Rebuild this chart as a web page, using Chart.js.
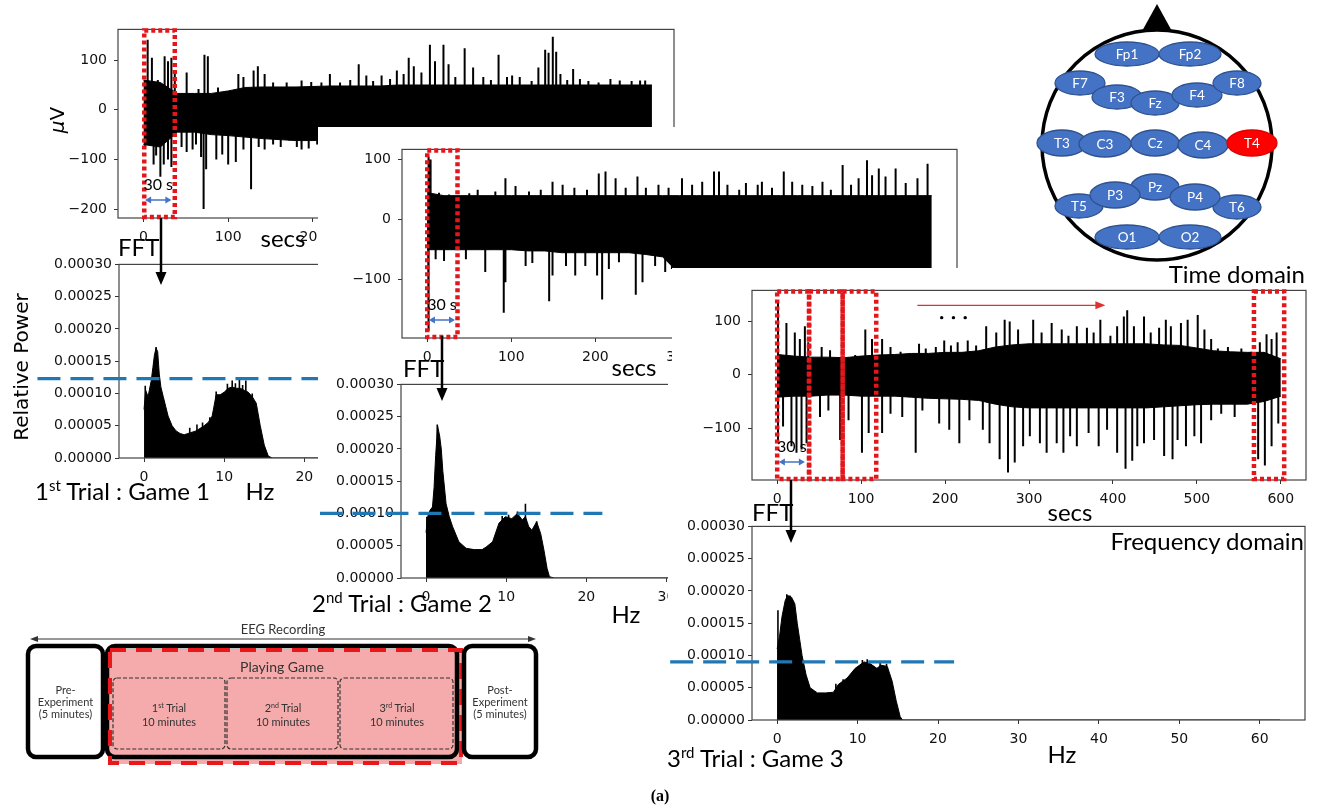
<!DOCTYPE html>
<html>
<head>
<meta charset="utf-8">
<title>EEG trials - time and frequency domain</title>
<script src="https://cdn.jsdelivr.net/npm/chart.js@4.4.1/dist/chart.umd.min.js"></script>
<style>
  html, body { margin: 0; padding: 0; background: #fff; }
  #page { position: relative; width: 1321px; height: 809px; overflow: hidden; background: #fff; }
  .clip { position: absolute; overflow: hidden; background: #fff; }
  .clip canvas { position: absolute; }
  svg.layer { position: absolute; left: 0; top: 0; }
</style>
</head>
<body>
<div id="page">
  <div class="clip" id="w_c1"><canvas id="c1"></canvas></div>
  <div class="clip" id="w_f1"><canvas id="f1"></canvas></div>
  <div class="clip" id="w_c2"><canvas id="c2"></canvas></div>
  <div class="clip" id="w_f2"><canvas id="f2"></canvas></div>
  <div class="clip" id="w_c3"><canvas id="c3"></canvas></div>
  <div class="clip" id="w_f3"><canvas id="f3"></canvas></div>

  <svg class="layer" width="1321" height="809" xmlns="http://www.w3.org/2000/svg">
    <!-- electrode map -->
    <g id="head">
      <polygon points="1141,33 1173,33 1157,4" fill="#000"/>
      <circle cx="1157" cy="145" r="115" fill="#fff" stroke="#000" stroke-width="3.5"/>
      <g id="electrodes" style="font-family:'Lato'; font-size:13.5px" text-anchor="middle"></g>
    </g>

    <!-- recording protocol -->
    <g id="protocol" style="font-family:'Lato'" fill="#333">
      <line x1="34" y1="639" x2="532" y2="639" stroke="#333" stroke-width="1.2"/>
      <polygon points="30,639 38,636 38,642" fill="#333"/>
      <polygon points="536,639 528,636 528,642" fill="#333"/>
      <text x="283" y="634" style="font-size:13px" text-anchor="middle">EEG Recording</text>

      <rect x="28" y="646" width="75" height="111" rx="8" fill="#fff" stroke="#000" stroke-width="4.5"/>
      <g style="font-size:11px" text-anchor="middle">
        <text x="65.5" y="694">Pre-</text>
        <text x="65.5" y="706">Experiment</text>
        <text x="65.5" y="718">(5 minutes)</text>
      </g>

      <rect x="109" y="649" width="353" height="115" fill="#f5abab"/>
      <rect x="107" y="646" width="350" height="111" rx="8" fill="none" stroke="#000" stroke-width="4.5"/>
      <rect x="110" y="650" width="351" height="113" fill="none" stroke="#e8191b" stroke-width="4" stroke-dasharray="16 10"/>
      <text x="282" y="672" style="font-size:14px" text-anchor="middle">Playing Game</text>
      <g fill="none" stroke="#333" stroke-width="1.2" stroke-dasharray="4 2">
        <rect x="113" y="678" width="112" height="71" rx="4"/>
        <rect x="227" y="678" width="111" height="71" rx="4"/>
        <rect x="340" y="678" width="113" height="71" rx="4"/>
      </g>
      <g style="font-size:11px" text-anchor="middle">
        <text x="169" y="712">1<tspan dy="-4" style="font-size:7px">st</tspan><tspan dy="4"> Trial</tspan></text>
        <text x="169" y="726">10 minutes</text>
        <text x="283" y="712">2<tspan dy="-4" style="font-size:7px">nd</tspan><tspan dy="4"> Trial</tspan></text>
        <text x="283" y="726">10 minutes</text>
        <text x="397" y="712">3<tspan dy="-4" style="font-size:7px">rd</tspan><tspan dy="4"> Trial</tspan></text>
        <text x="397" y="726">10 minutes</text>
      </g>

      <rect x="464" y="646" width="72" height="111" rx="8" fill="#fff" stroke="#000" stroke-width="4.5"/>
      <g style="font-size:11px" text-anchor="middle">
        <text x="500" y="694">Post-</text>
        <text x="500" y="706">Experiment</text>
        <text x="500" y="718">(5 minutes)</text>
      </g>
    </g>

    <!-- FFT arrows -->
    <g stroke="#000" stroke-width="2.5">
      <line x1="161" y1="218" x2="161" y2="274"/>
      <line x1="442" y1="336" x2="442" y2="390"/>
      <line x1="791" y1="480" x2="791" y2="532"/>
    </g>
    <g fill="#000">
      <polygon points="155.5,272 166.5,272 161,285"/>
      <polygon points="436.5,388 447.5,388 442,401"/>
      <polygon points="785.5,530 796.5,530 791,543"/>
    </g>

    <!-- axis titles and captions -->
    <g style="font-family:'DejaVu Sans'" fill="#000">
      <text x="57" y="120" style="font-size:20px" text-anchor="middle" dominant-baseline="central" transform="rotate(-90 57 120)"><tspan font-style="italic">μ</tspan>V</text>
      <text x="21" y="367" style="font-size:20px" text-anchor="middle" dominant-baseline="central" transform="rotate(-90 21 367)">Relative Power</text>
    </g>
    <g style="font-family:'Lato'; font-size:24px" fill="#000">
      <text x="118" y="256">FFT</text>
      <text x="283" y="247" text-anchor="middle">secs</text>
      <text x="35" y="500">1<tspan dy="-9" style="font-size:15px">st</tspan><tspan dy="9"> Trial : Game 1</tspan></text>
      <text x="260" y="500" text-anchor="middle">Hz</text>

      <text x="403" y="377">FFT</text>
      <text x="634" y="376" text-anchor="middle">secs</text>
      <text x="312" y="612">2<tspan dy="-9" style="font-size:15px">nd</tspan><tspan dy="9"> Trial : Game 2</tspan></text>
      <text x="626" y="623" text-anchor="middle">Hz</text>

      <text x="1305" y="283" text-anchor="end">Time domain</text>
      <text x="752" y="521">FFT</text>
      <text x="1070" y="521" text-anchor="middle">secs</text>
      <text x="1304" y="550" text-anchor="end">Frequency domain</text>
      <text x="667" y="767">3<tspan dy="-9" style="font-size:15px">rd</tspan><tspan dy="9"> Trial : Game 3</tspan></text>
      <text x="1062" y="763" text-anchor="middle">Hz</text>
    </g>
    <text x="660" y="801" style="font-family:'Liberation Serif'; font-weight:bold; font-size:16px" text-anchor="middle">(a)</text>
  </svg>
</div>

<script>
// ---- data ----
const secTicks = [0, 100, 200, 300, 400, 500, 600];
const hzTicks = [0, 10, 20, 30, 40, 50, 60];
const powTicks = [0, 0.00005, 0.0001, 0.00015, 0.0002, 0.00025, 0.0003];
const uvTicks1 = [-200, -100, 0, 100];
const uvTicks23 = [-100, 0, 100];

// time-domain envelope (dense part of the trace), one value per 20 s
const binSecs = [0, 20, 40, 60, 80, 100, 120, 140, 160, 180, 200, 220, 240, 260, 280, 300,
  320, 340, 360, 380, 400, 420, 440, 460, 480, 500, 520, 540, 560, 580, 600];

const hi1 = [60, 55, 33, 33, 33, 38, 45, 46, 46, 46, 47, 48, 48, 48, 48, 50,
  50, 50, 50, 50, 50, 50, 50, 50, 50, 50, 50, 50, 50, 50, 50];
const lo1 = [-70, -75, -45, -45, -50, -52, -55, -58, -60, -62, -62, -60, -60, -60, -60, -60,
  -60, -60, -60, -60, -60, -60, -60, -60, -60, -60, -60, -60, -60, -60, -55];
// isolated excursions [s, µV]
const spikes1 = [[5, 141], [10, 105], [17, 60], [25, 108], [29, 98], [33, 105], [37, 72],
  [51, 75], [65, 42], [72, 111], [76, 108], [88, 45], [98, 38], [112, 72], [118, 66], [130, 79],
  [135, 88], [143, 72], [153, 55], [169, 55], [187, 59], [198, 56], [210, 55], [220, 72],
  [232, 55], [244, 60], [254, 92], [263, 69], [271, 58], [281, 69], [291, 62], [299, 79],
  [307, 72], [313, 105], [319, 88], [328, 75], [338, 131], [344, 98], [354, 131], [360, 92],
  [368, 66], [379, 124], [389, 85], [401, 66], [410, 60], [419, 111], [429, 66], [435, 69],
  [444, 66], [458, 58], [466, 85], [474, 121], [478, 115], [483, 147], [487, 117], [492, 72],
  [500, 60], [507, 82], [515, 62], [525, 58], [537, 55], [551, 62], [562, 59], [576, 58],
  [586, 59], [592, 59],
  [2, -75], [5, -60], [12, -110], [15, -92], [20, -135], [24, -110], [29, -100], [33, -115],
  [45, -75], [51, -85], [58, -80], [62, -70], [68, -95], [71, -200], [74, -120], [86, -100],
  [93, -90], [100, -110], [109, -105], [118, -80], [127, -160], [136, -75], [143, -80],
  [153, -70], [162, -75], [172, -62], [181, -75], [186, -80], [195, -78], [205, -70],
  [250, -90], [350, -100], [450, -95], [550, -90]];

const hi2 = [45, 40, 40, 40, 40, 40, 40, 40, 40, 40, 40, 40, 40, 40, 40, 40,
  40, 40, 40, 40, 40, 40, 40, 40, 40, 40, 40, 40, 40, 40, 40];
const lo2 = [-50, -50, -50, -50, -50, -50, -52, -52, -55, -55, -55, -55, -55, -58, -62, -90,
  -90, -90, -90, -90, -90, -90, -90, -90, -90, -90, -90, -90, -90, -90, -90];
const spikes2 = [[2, 105], [4, 100], [14, 45], [26, 42], [50, 44], [60, 50], [81, 47], [93, 69],
  [105, 56], [121, 47], [135, 50], [149, 63], [161, 58], [175, 53], [190, 50], [204, 77],
  [212, 80], [224, 69], [236, 53], [250, 72], [260, 53], [275, 58], [287, 53], [303, 69],
  [315, 58], [327, 63], [341, 80], [347, 80], [357, 58], [371, 50], [379, 61], [393, 58],
  [398, 63], [410, 53], [424, 80], [434, 63], [446, 58], [458, 56], [470, 63], [480, 50],
  [494, 91], [504, 58], [513, 69], [523, 99], [529, 74], [537, 85], [545, 72], [557, 85],
  [569, 61], [583, 69], [595, 93],
  [1, -185], [10, -66], [20, -69], [46, -66], [69, -87], [91, -155], [93, -104], [117, -77],
  [125, -72], [145, -136], [149, -93], [165, -77], [176, -93], [188, -77], [202, -93],
  [208, -133], [216, -82], [228, -71], [248, -125], [256, -104], [271, -77], [283, -87],
  [291, -82], [307, -100], [330, -110], [360, -100], [400, -110], [450, -100], [500, -110],
  [550, -100]];

const hi3 = [38, 35, 33, 33, 32, 35, 37, 38, 40, 40, 42, 42, 45, 52, 56, 58,
  58, 58, 58, 58, 58, 58, 58, 56, 55, 50, 45, 43, 42, 42, 30];
const lo3 = [-42, -40, -40, -38, -38, -40, -40, -40, -42, -44, -45, -46, -48, -55, -60, -62,
  -62, -62, -62, -62, -62, -62, -62, -60, -58, -56, -55, -55, -55, -50, -40];
const spikes3 = [[1, 140], [11, 97], [21, 79], [27, 67], [33, 91], [37, 61], [53, 52], [63, 46],
  [93, 37], [105, 85], [113, 67], [125, 67], [135, 52], [147, 43], [169, 58], [177, 49],
  [189, 52], [199, 64], [207, 55], [215, 61], [227, 64], [237, 55], [249, 91], [261, 79],
  [271, 103], [277, 100], [287, 85], [305, 103], [315, 79], [327, 97], [339, 85], [347, 73],
  [357, 91], [369, 88], [377, 79], [385, 103], [397, 73], [405, 91], [413, 109], [417, 121],
  [425, 91], [437, 109], [445, 79], [455, 88], [463, 103], [469, 91], [481, 97], [489, 103],
  [501, 112], [509, 85], [517, 67], [525, 49], [537, 52], [553, 49], [565, 43], [575, 61],
  [583, 76], [589, 67], [595, 79],
  [1, -128], [7, -97], [17, -134], [23, -146], [29, -140], [35, -128], [51, -79], [61, -67],
  [75, -122], [85, -85], [101, -146], [109, -109], [125, -109], [135, -73], [149, -79],
  [165, -146], [173, -67], [193, -91], [205, -103], [217, -128], [229, -85], [245, -103],
  [253, -128], [265, -158], [275, -183], [283, -164], [293, -134], [301, -115], [313, -128],
  [321, -146], [333, -128], [341, -146], [349, -115], [357, -134], [371, -109], [383, -134],
  [393, -103], [405, -146], [415, -176], [423, -161], [429, -134], [437, -128], [449, -122],
  [461, -152], [471, -158], [477, -122], [487, -134], [497, -115], [505, -128], [517, -85],
  [529, -73], [545, -79], [573, -158], [581, -170], [589, -134], [597, -91]];

// red analysis windows (seconds) and the 30 s marker
const windows1 = [[1, 37]];
const windows2 = [[0, 36]];
const windows3 = [[0, 38], [38, 78], [78, 118], [568, 604]];
const markSpan = [2, 33];

// spectra (relative power)
const hz1 = [0, 0.2, 0.5, 0.9, 1.1, 1.3, 1.5, 1.7, 1.9, 2.1, 2.4, 2.7, 3.0, 3.5, 4.0, 4.5, 5.0, 5.5,
  6.0, 6.5, 7.0, 7.5, 8.0, 8.5, 9.0, 9.5, 10.0, 10.5, 11.0, 11.5, 12.0, 12.5, 13.0, 13.5, 14.0,
  14.5, 15.0, 15.5, 16.0, 62.5];
const pow1 = [7.5e-5, 10.5e-5, 9.5e-5, 12e-5, 14e-5, 16e-5, 17e-5, 16.5e-5, 13e-5, 11e-5, 9.5e-5,
  8e-5, 6.5e-5, 5e-5, 4.2e-5, 3.8e-5, 3.6e-5, 3.8e-5, 4e-5, 4.2e-5, 4.6e-5, 5e-5, 5.5e-5, 6.5e-5,
  9.8e-5, 9.8e-5, 10.2e-5, 10.8e-5, 11e-5, 10.8e-5, 10.8e-5, 10.5e-5, 10.2e-5, 9.5e-5, 8.5e-5,
  5e-5, 2e-5, 0.3e-5, 0, 0];
const spikesF1 = [[0.15, 11.2e-5], [1.5, 17.2e-5], [5.7, 4.7e-5], [6.6, 5.2e-5], [7.3, 5.5e-5],
  [8.2, 6.3e-5], [9.0, 10.3e-5], [10.4, 11.5e-5], [11.0, 12e-5], [11.4, 11.6e-5], [11.9, 12.1e-5],
  [12.3, 11.3e-5], [12.7, 12e-5], [13.5, 10e-5]];

const hz2 = [0, 0.2, 0.5, 0.8, 1.0, 1.2, 1.45, 1.7, 1.9, 2.1, 2.5, 2.9, 3.3, 4.1, 5.0, 6.0, 7.0,
  7.5, 8.3, 9.1, 9.9, 10.7, 11.4, 12.0, 12.4, 12.8, 13.2, 13.8, 14.3, 14.7, 15.1, 15.4, 16, 62.5];
const pow2 = [7e-5, 9.5e-5, 10.5e-5, 11e-5, 14e-5, 19e-5, 23.5e-5, 22e-5, 20e-5, 16.5e-5, 11.5e-5,
  9.5e-5, 8e-5, 5.6e-5, 4.6e-5, 4.4e-5, 4.4e-5, 4.8e-5, 5.6e-5, 8.5e-5, 9.5e-5, 9.2e-5, 10e-5, 9e-5,
  9.5e-5, 8e-5, 7.4e-5, 8.7e-5, 6.9e-5, 4.4e-5, 1.5e-5, 0.2e-5, 0, 0];
const spikesF2 = [[0.1, 9.5e-5], [1.4, 23.8e-5], [9.5, 9.6e-5], [10.3, 9.8e-5], [11.4, 10.3e-5],
  [12.4, 11.5e-5], [13.8, 8.8e-5]];

const hz3 = [0, 0.3, 0.6, 1.0, 1.3, 1.8, 2.2, 2.5, 2.8, 3.1, 3.6, 4.1, 5.0, 6.0, 7.0, 7.6, 8.7,
  9.7, 10.8, 11.6, 12.4, 12.9, 13.7, 14.3, 14.8, 15.3, 15.6, 62.5];
const pow3 = [11e-5, 13e-5, 16e-5, 18.5e-5, 19.3e-5, 19e-5, 18e-5, 15e-5, 12.5e-5, 10e-5, 7e-5,
  5e-5, 4.2e-5, 4.2e-5, 4.3e-5, 5.5e-5, 6.5e-5, 8e-5, 9e-5, 8.7e-5, 8e-5, 8.5e-5, 8.3e-5, 6e-5,
  3e-5, 0.5e-5, 0, 0];
const spikesF3 = [[0.1, 17e-5], [1.2, 19.5e-5], [1.6, 19.3e-5], [7.3, 5.6e-5], [8.2, 6.3e-5],
  [10.6, 9.3e-5], [11.2, 9.4e-5], [12.8, 9e-5], [13.6, 8.7e-5]];

// dashed reference levels
const levels = [12.3e-5, 10e-5, 9e-5];
const levelSpan = [-13.3, 22];

// electrode map (10-20 system), T4 highlighted
const electrodes = [
  ['Fp1', 1127, 54, 32, 12], ['Fp2', 1190, 54, 31, 12],
  ['F7', 1080, 83, 25, 12], ['F3', 1117, 97, 25, 12], ['Fz', 1155, 103, 24, 12],
  ['F4', 1197, 95, 25, 12], ['F8', 1237, 83, 24, 12],
  ['T3', 1062, 143, 25, 13], ['C3', 1105, 144, 26, 13], ['Cz', 1155, 143, 24, 13],
  ['C4', 1203, 145, 25, 13], ['T4', 1252, 143, 25, 13],
  ['T5', 1079, 206, 24, 12], ['T6', 1237, 207, 24, 12], ['Pz', 1155, 187, 24, 13],
  ['P3', 1115, 195, 25, 13], ['P4', 1195, 197, 25, 13],
  ['O1', 1127, 237, 32, 12], ['O2', 1190, 237, 31, 12]
];
const highlighted = 'T4';

// ---- layout: clip box and canvas box in page pixels ----
const panels = {
  c1: { wrap: [0, 0, 700, 250], box: [30, 14, 654, 234], yw: 88, xmax: 626 },
  f1: { wrap: [0, 252, 318, 250], box: [0, 253, 680, 235], yw: 119 },
  c2: { wrap: [318, 127, 650, 251], box: [330, 134, 637, 234], yw: 72, xmax: 630 },
  f2: { wrap: [320, 371, 348, 257], box: [320, 373, 642, 235], yw: 81 },
  c3: { wrap: [672, 268, 649, 237], box: [690, 275, 626, 235], yw: 62, xmax: 630 },
  f3: { wrap: [668, 518, 653, 230], box: [668, 515, 647, 235], yw: 84 }
};

for (const [id, p] of Object.entries(panels)) {
  const w = document.getElementById('w_' + id);
  const c = document.getElementById(id);
  Object.assign(w.style, { left: p.wrap[0] + 'px', top: p.wrap[1] + 'px', width: p.wrap[2] + 'px', height: p.wrap[3] + 'px' });
  c.width = p.box[2];
  c.height = p.box[3];
  Object.assign(c.style, { left: (p.box[0] - p.wrap[0]) + 'px', top: (p.box[1] - p.wrap[1]) + 'px', width: p.box[2] + 'px', height: p.box[3] + 'px' });
}

// electrode ellipses
const eg = document.getElementById('electrodes');
const NS = 'http://www.w3.org/2000/svg';
electrodes.forEach(([name, cx, cy, rx, ry]) => {
  const on = name === highlighted;
  const el = document.createElementNS(NS, 'ellipse');
  el.setAttribute('cx', cx); el.setAttribute('cy', cy);
  el.setAttribute('rx', rx); el.setAttribute('ry', ry);
  el.setAttribute('fill', on ? '#ff0000' : '#4472c4');
  el.setAttribute('stroke', on ? '#e00000' : '#2f528f');
  el.setAttribute('stroke-width', '1.3');
  eg.appendChild(el);
  const t = document.createElementNS(NS, 'text');
  t.setAttribute('x', cx); t.setAttribute('y', cy + 4.5);
  t.setAttribute('fill', '#fff');
  t.textContent = name;
  eg.appendChild(t);
});

// ---- chart helpers ----
Chart.defaults.font.family = 'DejaVu Sans';
const tickFont = { family: 'DejaVu Sans', size: 14 };
const fmtInt = v => String(v);
const fmtUv = v => (v < 0 ? '\u2212' + (-v) : String(v));
const fmtPow = v => v.toFixed(5);

function axis(min, max, values, fmt, size, pad, isX) {
  return {
    type: 'linear', min, max, offset: false,
    afterBuildTicks: a => { a.ticks = values.map(v => ({ value: v })); },
    ticks: { font: tickFont, color: '#111', padding: pad, autoSkip: false, maxRotation: 0, callback: fmt },
    grid: { display: true, drawOnChartArea: false, drawTicks: true, tickLength: 4, color: '#333', lineWidth: 1 },
    border: { display: false },
    afterFit: a => { if (isX) a.height = size; else a.width = size; }
  };
}

const frame = {
  id: 'frame',
  afterDraw(c) {
    const { ctx, chartArea: a } = c;
    ctx.save();
    ctx.strokeStyle = '#444';
    ctx.lineWidth = 1.2;
    ctx.strokeRect(a.left, a.top, a.right - a.left, a.bottom - a.top);
    ctx.restore();
  }
};

function windowsPlugin(wins) {
  return {
    id: 'windows',
    afterDraw(c) {
      const { ctx, chartArea: a, scales: { x } } = c;
      ctx.save();
      ctx.strokeStyle = '#e3171b';
      ctx.lineWidth = 4.5;
      ctx.setLineDash([4, 3]);
      wins.forEach(([t0, t1]) => {
        const x0 = x.getPixelForValue(t0), x1 = x.getPixelForValue(t1);
        ctx.strokeRect(x0, a.top + 1, x1 - x0, a.bottom - a.top - 2);
      });
      ctx.restore();
    }
  };
}

const spanMarker = {
  id: 'span',
  afterDraw(c) {
    const { ctx, chartArea: a, scales: { x } } = c;
    const x0 = x.getPixelForValue(markSpan[0]), x1 = x.getPixelForValue(markSpan[1]);
    const y = a.bottom - 18;
    ctx.save();
    ctx.strokeStyle = ctx.fillStyle = '#4472c4';
    ctx.lineWidth = 1.5;
    ctx.beginPath(); ctx.moveTo(x0 + 4, y); ctx.lineTo(x1 - 4, y); ctx.stroke();
    ctx.beginPath(); ctx.moveTo(x0, y); ctx.lineTo(x0 + 6, y - 3.5); ctx.lineTo(x0 + 6, y + 3.5); ctx.fill();
    ctx.beginPath(); ctx.moveTo(x1, y); ctx.lineTo(x1 - 6, y - 3.5); ctx.lineTo(x1 - 6, y + 3.5); ctx.fill();
    ctx.fillStyle = '#000';
    ctx.font = '16px Lato';
    ctx.textAlign = 'center';
    ctx.textBaseline = 'middle';
    ctx.fillText('30 s', (x0 + x1) / 2, y - 15);
    ctx.restore();
  }
};

// sliding-window hint in the third recording
const progress = {
  id: 'progress',
  afterDraw(c) {
    const { ctx, scales: { x, y } } = c;
    const xa = x.getPixelForValue(167), xb = x.getPixelForValue(391), ya = y.getPixelForValue(130);
    ctx.save();
    ctx.strokeStyle = ctx.fillStyle = '#e03030';
    ctx.lineWidth = 1.3;
    ctx.beginPath(); ctx.moveTo(xa, ya); ctx.lineTo(xb - 8, ya); ctx.stroke();
    ctx.beginPath(); ctx.moveTo(xb, ya); ctx.lineTo(xb - 10, ya - 4); ctx.lineTo(xb - 10, ya + 4); ctx.fill();
    ctx.fillStyle = '#000';
    [196, 210, 224].forEach(t => {
      ctx.beginPath(); ctx.arc(x.getPixelForValue(t), y.getPixelForValue(107), 1.7, 0, Math.PI * 2); ctx.fill();
    });
    ctx.restore();
  }
};

function levelPlugin(level) {
  return {
    id: 'level',
    afterDraw(c) {
      const { ctx, scales: { x, y } } = c;
      const yy = y.getPixelForValue(level);
      ctx.save();
      ctx.strokeStyle = '#1f77b4';
      ctx.lineWidth = 3.2;
      ctx.setLineDash([23, 10]);
      ctx.beginPath();
      ctx.moveTo(x.getPixelForValue(levelSpan[0]), yy);
      ctx.lineTo(x.getPixelForValue(levelSpan[1]), yy);
      ctx.stroke();
      ctx.restore();
    }
  };
}

const spikeLine = list => [...list].sort((a, b) => a[0] - b[0])
  .flatMap(([t, v]) => [{ x: t, y: 0 }, { x: t, y: v }, { x: t, y: 0 }]);

const baseOptions = (xAxis, yAxis) => ({
  responsive: false, animation: false, devicePixelRatio: 1,
  layout: { padding: { top: 10, right: 10, left: 0, bottom: 0 } },
  plugins: { legend: { display: false }, tooltip: { enabled: false } },
  elements: { line: { tension: 0 }, point: { radius: 0 } },
  scales: { x: xAxis, y: yAxis }
});

function signalChart(id, hi, lo, spikes, yMin, yMax, yTicks, wins, extra) {
  const p = panels[id];
  return new Chart(document.getElementById(id), {
    type: 'line',
    data: {
      datasets: [
        { data: binSecs.map((t, i) => ({ x: t, y: hi[i] })), borderColor: '#000', borderWidth: 1, fill: false },
        { data: binSecs.map((t, i) => ({ x: t, y: lo[i] })), borderColor: '#000', borderWidth: 1, fill: '-1', backgroundColor: '#000' },
        { data: spikeLine(spikes), borderColor: '#000', borderWidth: 2, fill: false }
      ]
    },
    options: baseOptions(
      axis(-30, p.xmax, secTicks, fmtInt, 30, 7, true),
      axis(yMin, yMax, yTicks, fmtUv, p.yw, 7, false)
    ),
    plugins: [frame, windowsPlugin(wins), spanMarker].concat(extra || [])
  });
}

function spectrumChart(id, hz, pow, spikes, level) {
  const p = panels[id];
  return new Chart(document.getElementById(id), {
    type: 'line',
    data: {
      datasets: [
        { data: hz.map((f, i) => ({ x: f, y: pow[i] })), borderColor: '#000', borderWidth: 1, fill: 'origin', backgroundColor: '#000' },
        { data: spikeLine(spikes), borderColor: '#000', borderWidth: 1.6, fill: false }
      ]
    },
    options: baseOptions(
      axis(-3.125, 65.625, hzTicks, fmtInt, 30, 7, true),
      axis(0, 0.0003, powTicks, fmtPow, p.yw, 3, false)
    ),
    plugins: [frame, levelPlugin(level)]
  });
}

signalChart('c1', hi1, lo1, spikes1, -218, 162, uvTicks1, windows1);
spectrumChart('f1', hz1, pow1, spikesF1, levels[0]);
signalChart('c2', hi2, lo2, spikes2, -197, 117, uvTicks23, windows2);
spectrumChart('f2', hz2, pow2, spikesF2, levels[1]);
signalChart('c3', hi3, lo3, spikes3, -197, 158, uvTicks23, windows3, [progress]);
spectrumChart('f3', hz3, pow3, spikesF3, levels[2]);
</script>
</body>
</html>
